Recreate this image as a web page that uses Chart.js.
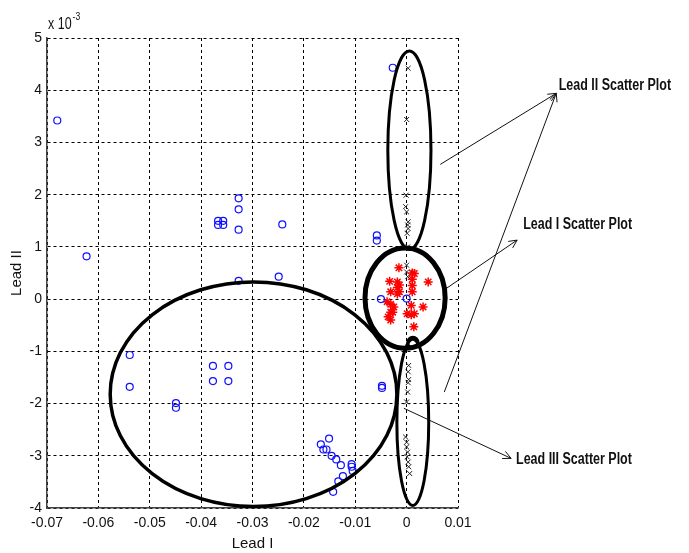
<!DOCTYPE html>
<html>
<head>
<meta charset="utf-8">
<script src="https://cdn.jsdelivr.net/npm/chart.js@4/dist/chart.umd.min.js"></script>
<style>
  html, body { margin: 0; padding: 0; background: #fff; }
  #wrap { width: 689px; height: 553px; position: relative; }
</style>
</head>
<body>
<div id="wrap"><canvas id="c" width="689" height="553"></canvas></div>
<script>
// Lead I (x) against Lead II (y, in units of 1e-3)
const xTicks = [-0.07, -0.06, -0.05, -0.04, -0.03, -0.02, -0.01, 0, 0.01];
const yTicks = [-4, -3, -2, -1, 0, 1, 2, 3, 4, 5];

// Blue circles
const circX = [-0.068, -0.0623, -0.0367, -0.0367, -0.0357, -0.0357, -0.0327, -0.0327, -0.0327, -0.0327,
  -0.0242, -0.0249, -0.0058, -0.0058, -0.0027, -0.005, 0.0, -0.0048, -0.0048,
  -0.0539, -0.0539, -0.0449, -0.0449, -0.0377, -0.0347, -0.0377, -0.0347,
  -0.0151, -0.0167, -0.0162, -0.0156, -0.0146, -0.0137, -0.0128, -0.0107, -0.0105, -0.0107,
  -0.0124, -0.0133, -0.0143];
const circY = [3.42, 0.82, 1.42, 1.50, 1.42, 1.50, 1.93, 1.72, 1.33, 0.35,
  1.43, 0.43, 1.22, 1.12, 4.43, 0.0, 0.01, -1.66, -1.70,
  -1.07, -1.68, -1.99, -2.08, -1.28, -1.28, -1.57, -1.57,
  -2.67, -2.78, -2.88, -2.88, -3.0, -3.07, -3.18, -3.16, -3.29, -3.21,
  -3.39, -3.49, -3.69];

// Red stars
const starX = [-0.0015, 0.0042, -0.0033, 0.0011, 0.0011, 0.0011, 0.0011, 0.0015, -0.0018, -0.0018,
  -0.0018, -0.0014, -0.0014, -0.0031, -0.0038, -0.0031, -0.0031, -0.0031, -0.0025, -0.0036,
  -0.0027, 0.0001, 0.0009, 0.0009, 0.0015, 0.0032, 0.0014];
const starY = [0.60, 0.33, 0.34, 0.50, 0.38, 0.26, 0.14, 0.49, 0.33, 0.22,
  0.10, 0.27, 0.14, 0.14, -0.05, -0.10, -0.25, -0.40, -0.15, -0.34,
  -0.25, -0.28, -0.12, -0.30, -0.28, -0.15, -0.53];

// Black crosses
const crossX = [0.0003, 0.0, -0.0001, -0.0002, 0.0, 0.0003, 0.0002, 0.0003, 0.0001, 0.0002, 0.0, 0.0, 0.0002,
  0.0004, 0.0003, 0.0004, 0.0003, 0.0002, 0.0, -0.0002, 0.0, 0.0, 0.0002, 0.0001, 0.0003, 0.0004, 0.0006];
const crossY = [4.42, 3.44, 1.99, 1.77, 1.67, 1.48, 1.42, 1.35, 1.26, 1.0, 0.65, 0.52, 0.43,
  -1.27, -1.39, -1.54, -1.6, -1.78, -1.97, -2.64, -2.74, -2.83, -2.93, -3.02, -3.12, -3.21, -3.34];

// Outline ellipses around each group: centre, radii (data units), line width
const outlines = [
  { cx: 0.00054, cy: 2.85, rx: 0.0042, ry: 1.9, w: 3 },
  { cx: -0.0003, cy: 0.02, rx: 0.0078, ry: 0.96, w: 5 },
  { cx: 0.0012, cy: -2.36, rx: 0.0031, ry: 1.59, w: 3 },
  { cx: 0.00122, cy: -0.83, rx: 0.001, ry: 0.1, w: 3 },
  { cx: -0.0298, cy: -1.82, rx: 0.0279, ry: 2.15, w: 3.5 }
];

// Callout arrows (start -> head) and their captions
const arrows = [
  { x1: 0.00655, y1: 2.58, x2: 0.02912, y2: 3.94 },
  { x1: 0.00733, y1: -1.78, x2: 0.02912, y2: 3.94 },
  { x1: 0.00766, y1: 0.20, x2: 0.02151, y2: 1.13 },
  { x1: -0.00054, y1: -2.09, x2: 0.02034, y2: -3.05 }
];
const captions = [
  { text: 'Lead II Scatter Plot', x: 0.0296, y: 4.08 },
  { text: 'Lead I Scatter Plot', x: 0.0227, y: 1.42 },
  { text: 'Lead III Scatter Plot', x: 0.0213, y: -3.07 }
];

const FONT = "'Liberation Sans', Arial, sans-serif";
const SQUEEZE = 0.78; // horizontal compression for the narrow caption face

const pts = (xs, ys) => xs.map((x, i) => ({ x, y: ys[i] }));

// draw text compressed horizontally, anchored at its left edge
function narrowText(ctx, text, x, y) {
  ctx.save();
  ctx.translate(x, y);
  ctx.scale(SQUEEZE, 1);
  ctx.fillText(text, 0, 0);
  ctx.restore();
}

const overlay = {
  id: 'overlay',
  afterDatasetsDraw(chart) {
    const ctx = chart.ctx;
    const xs = chart.scales.x, ys = chart.scales.y;
    const px = v => xs.getPixelForValue(v);
    const py = v => ys.getPixelForValue(v);
    ctx.save();
    ctx.strokeStyle = '#000';
    outlines.forEach(o => {
      const cx = px(o.cx), cy = py(o.cy);
      const rx = Math.abs(px(o.cx + o.rx) - cx), ry = Math.abs(py(o.cy + o.ry) - cy);
      ctx.beginPath();
      ctx.lineWidth = o.w;
      ctx.ellipse(cx, cy, rx, ry, 0, 0, Math.PI * 2);
      ctx.stroke();
    });
    ctx.lineWidth = 1;
    ctx.strokeStyle = '#111';
    arrows.forEach(a => {
      const x1 = px(a.x1), y1 = py(a.y1), x2 = px(a.x2), y2 = py(a.y2);
      ctx.beginPath();
      ctx.moveTo(x1, y1);
      ctx.lineTo(x2, y2);
      const ang = Math.atan2(y2 - y1, x2 - x1);
      const L = 9, sp = 0.45;
      ctx.moveTo(x2 - L * Math.cos(ang - sp), y2 - L * Math.sin(ang - sp));
      ctx.lineTo(x2, y2);
      ctx.lineTo(x2 - L * Math.cos(ang + sp), y2 - L * Math.sin(ang + sp));
      ctx.stroke();
    });
    ctx.fillStyle = '#111';
    ctx.font = 'bold 16px ' + FONT;
    ctx.textBaseline = 'middle';
    ctx.textAlign = 'left';
    captions.forEach(c => narrowText(ctx, c.text, px(c.x), py(c.y)));
    // exponent marker above the y axis
    ctx.font = '16px ' + FONT;
    ctx.textBaseline = 'alphabetic';
    const ex = chart.chartArea.left + 1, ey = chart.chartArea.top - 9;
    narrowText(ctx, 'x 10', ex, ey);
    const w = ctx.measureText('x 10').width * SQUEEZE;
    ctx.font = '11px ' + FONT;
    narrowText(ctx, '-3', ex + w + 1, ey - 9);
    ctx.restore();
  }
};

new Chart(document.getElementById('c'), {
  type: 'scatter',
  data: {
    datasets: [
      { data: pts(circX, circY), pointStyle: 'circle', pointRadius: 3.5, borderColor: '#1010ff',
        backgroundColor: 'rgba(0,0,0,0)', borderWidth: 1.2 },
      { data: pts(starX, starY), pointStyle: 'star', pointRadius: 4.5, borderColor: '#ff0000',
        backgroundColor: 'rgba(0,0,0,0)', borderWidth: 1.5 },
      { data: pts(crossX, crossY), pointStyle: 'crossRot', pointRadius: 3.5, borderColor: '#222',
        backgroundColor: 'rgba(0,0,0,0)', borderWidth: 1 }
    ]
  },
  options: {
    responsive: false,
    animation: false,
    layout: { padding: { top: 38, right: 231, left: 8, bottom: 0 } },
    plugins: { legend: { display: false }, tooltip: { enabled: false } },
    scales: {
      x: {
        type: 'linear', min: -0.07, max: 0.01,
        afterBuildTicks: s => { s.ticks = xTicks.map(v => ({ value: v })); },
        afterFit: s => { s.height = 45; },
        grid: { color: '#000', lineWidth: 1, drawTicks: false },
        border: { display: true, color: '#444', width: 1.5, dash: [3, 3] },
        ticks: { color: '#111', font: { family: FONT, size: 14 }, padding: 7,
          maxRotation: 0, autoSkip: false, callback: v => String(Math.round(v * 100) / 100) },
        title: { display: true, text: 'Lead I', color: '#111', font: { family: FONT, size: 15 }, padding: { top: 1, bottom: 0 } }
      },
      y: {
        type: 'linear', min: -4, max: 5,
        afterBuildTicks: s => { s.ticks = yTicks.map(v => ({ value: v })); },
        afterFit: s => { s.width = 39; },
        grid: { color: '#000', lineWidth: 1, drawTicks: false },
        border: { display: true, color: '#444', width: 1.5, dash: [3, 3] },
        ticks: { color: '#111', font: { family: FONT, size: 14 }, padding: 5, autoSkip: false },
        title: { display: true, text: 'Lead II', color: '#111', font: { family: FONT, size: 15 }, padding: { top: 0, bottom: 2 } }
      }
    }
  },
  plugins: [overlay]
});
</script>
</body>
</html>
